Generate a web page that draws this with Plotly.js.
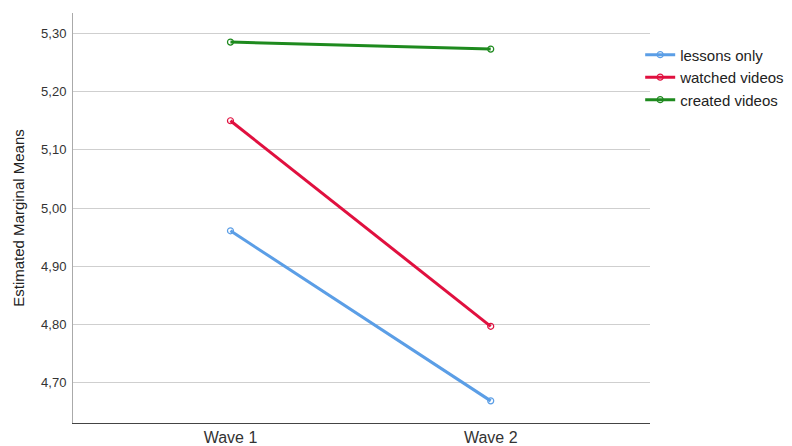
<!DOCTYPE html>
<html>
<head>
<meta charset="utf-8">
<script src="https://cdn.plot.ly/plotly-3.0.1.min.js"></script>
<style>html,body{margin:0;padding:0;background:#fff;}#chart{width:792px;height:446px;}</style>
</head>
<body>
<div id="chart"></div>
<script>
var waves = ["Wave 1", "Wave 2"];
var seriesNames = ["lessons only", "watched videos", "created videos"];
var lessonsOnly = [4.961, 4.669];
var watchedVideos = [5.150, 4.797];
var createdVideos = [5.285, 5.273];
var colors = ["#5b9ee6", "#e0103f", "#1e8a1e"];
var yTicks = [4.70, 4.80, 4.90, 5.00, 5.10, 5.20, 5.30];

var allValues = [lessonsOnly, watchedVideos, createdVideos];
var traces = allValues.map(function(v, i) {
  return {
    x: waves, y: v, name: seriesNames[i], type: "scatter", mode: "lines+markers",
    line: {color: colors[i], width: 3},
    marker: {symbol: "circle-open", size: 6, color: colors[i], line: {width: 1.2}}
  };
});

var layout = {
  width: 792, height: 446,
  margin: {l: 72.5, r: 142, t: 13, b: 23, autoexpand: false},
  paper_bgcolor: "#fff", plot_bgcolor: "#fff",
  separators: ",.",
  font: {family: "Liberation Sans, Arial, sans-serif", color: "#333", size: 12},
  showlegend: true,
  legend: {x: 0.983, xanchor: "left", y: 0.938, yanchor: "top",
           font: {size: 15, color: "#222"}, bgcolor: "rgba(0,0,0,0)", tracegroupgap: 0},
  xaxis: {
    type: "category", range: [-0.605, 1.612], showgrid: false, zeroline: false,
    showline: true, linecolor: "#444", linewidth: 1, ticks: "", tickfont: {size: 16, color: "#333"}
  },
  yaxis: {
    range: [4.631, 5.335], tickvals: yTicks, tickformat: ".2f",
    showgrid: true, gridcolor: "#cfcfcf", gridwidth: 1, zeroline: false,
    showline: true, linecolor: "#aaa", linewidth: 1, ticks: "", ticklabelstandoff: 3,
    tickfont: {size: 13, color: "#333"},
    title: {text: "Estimated Marginal Means", font: {size: 15, color: "#222"}, standoff: 12}
  }
};

Plotly.newPlot("chart", traces, layout, {displayModeBar: false, staticPlot: true});
</script>
</body>
</html>
